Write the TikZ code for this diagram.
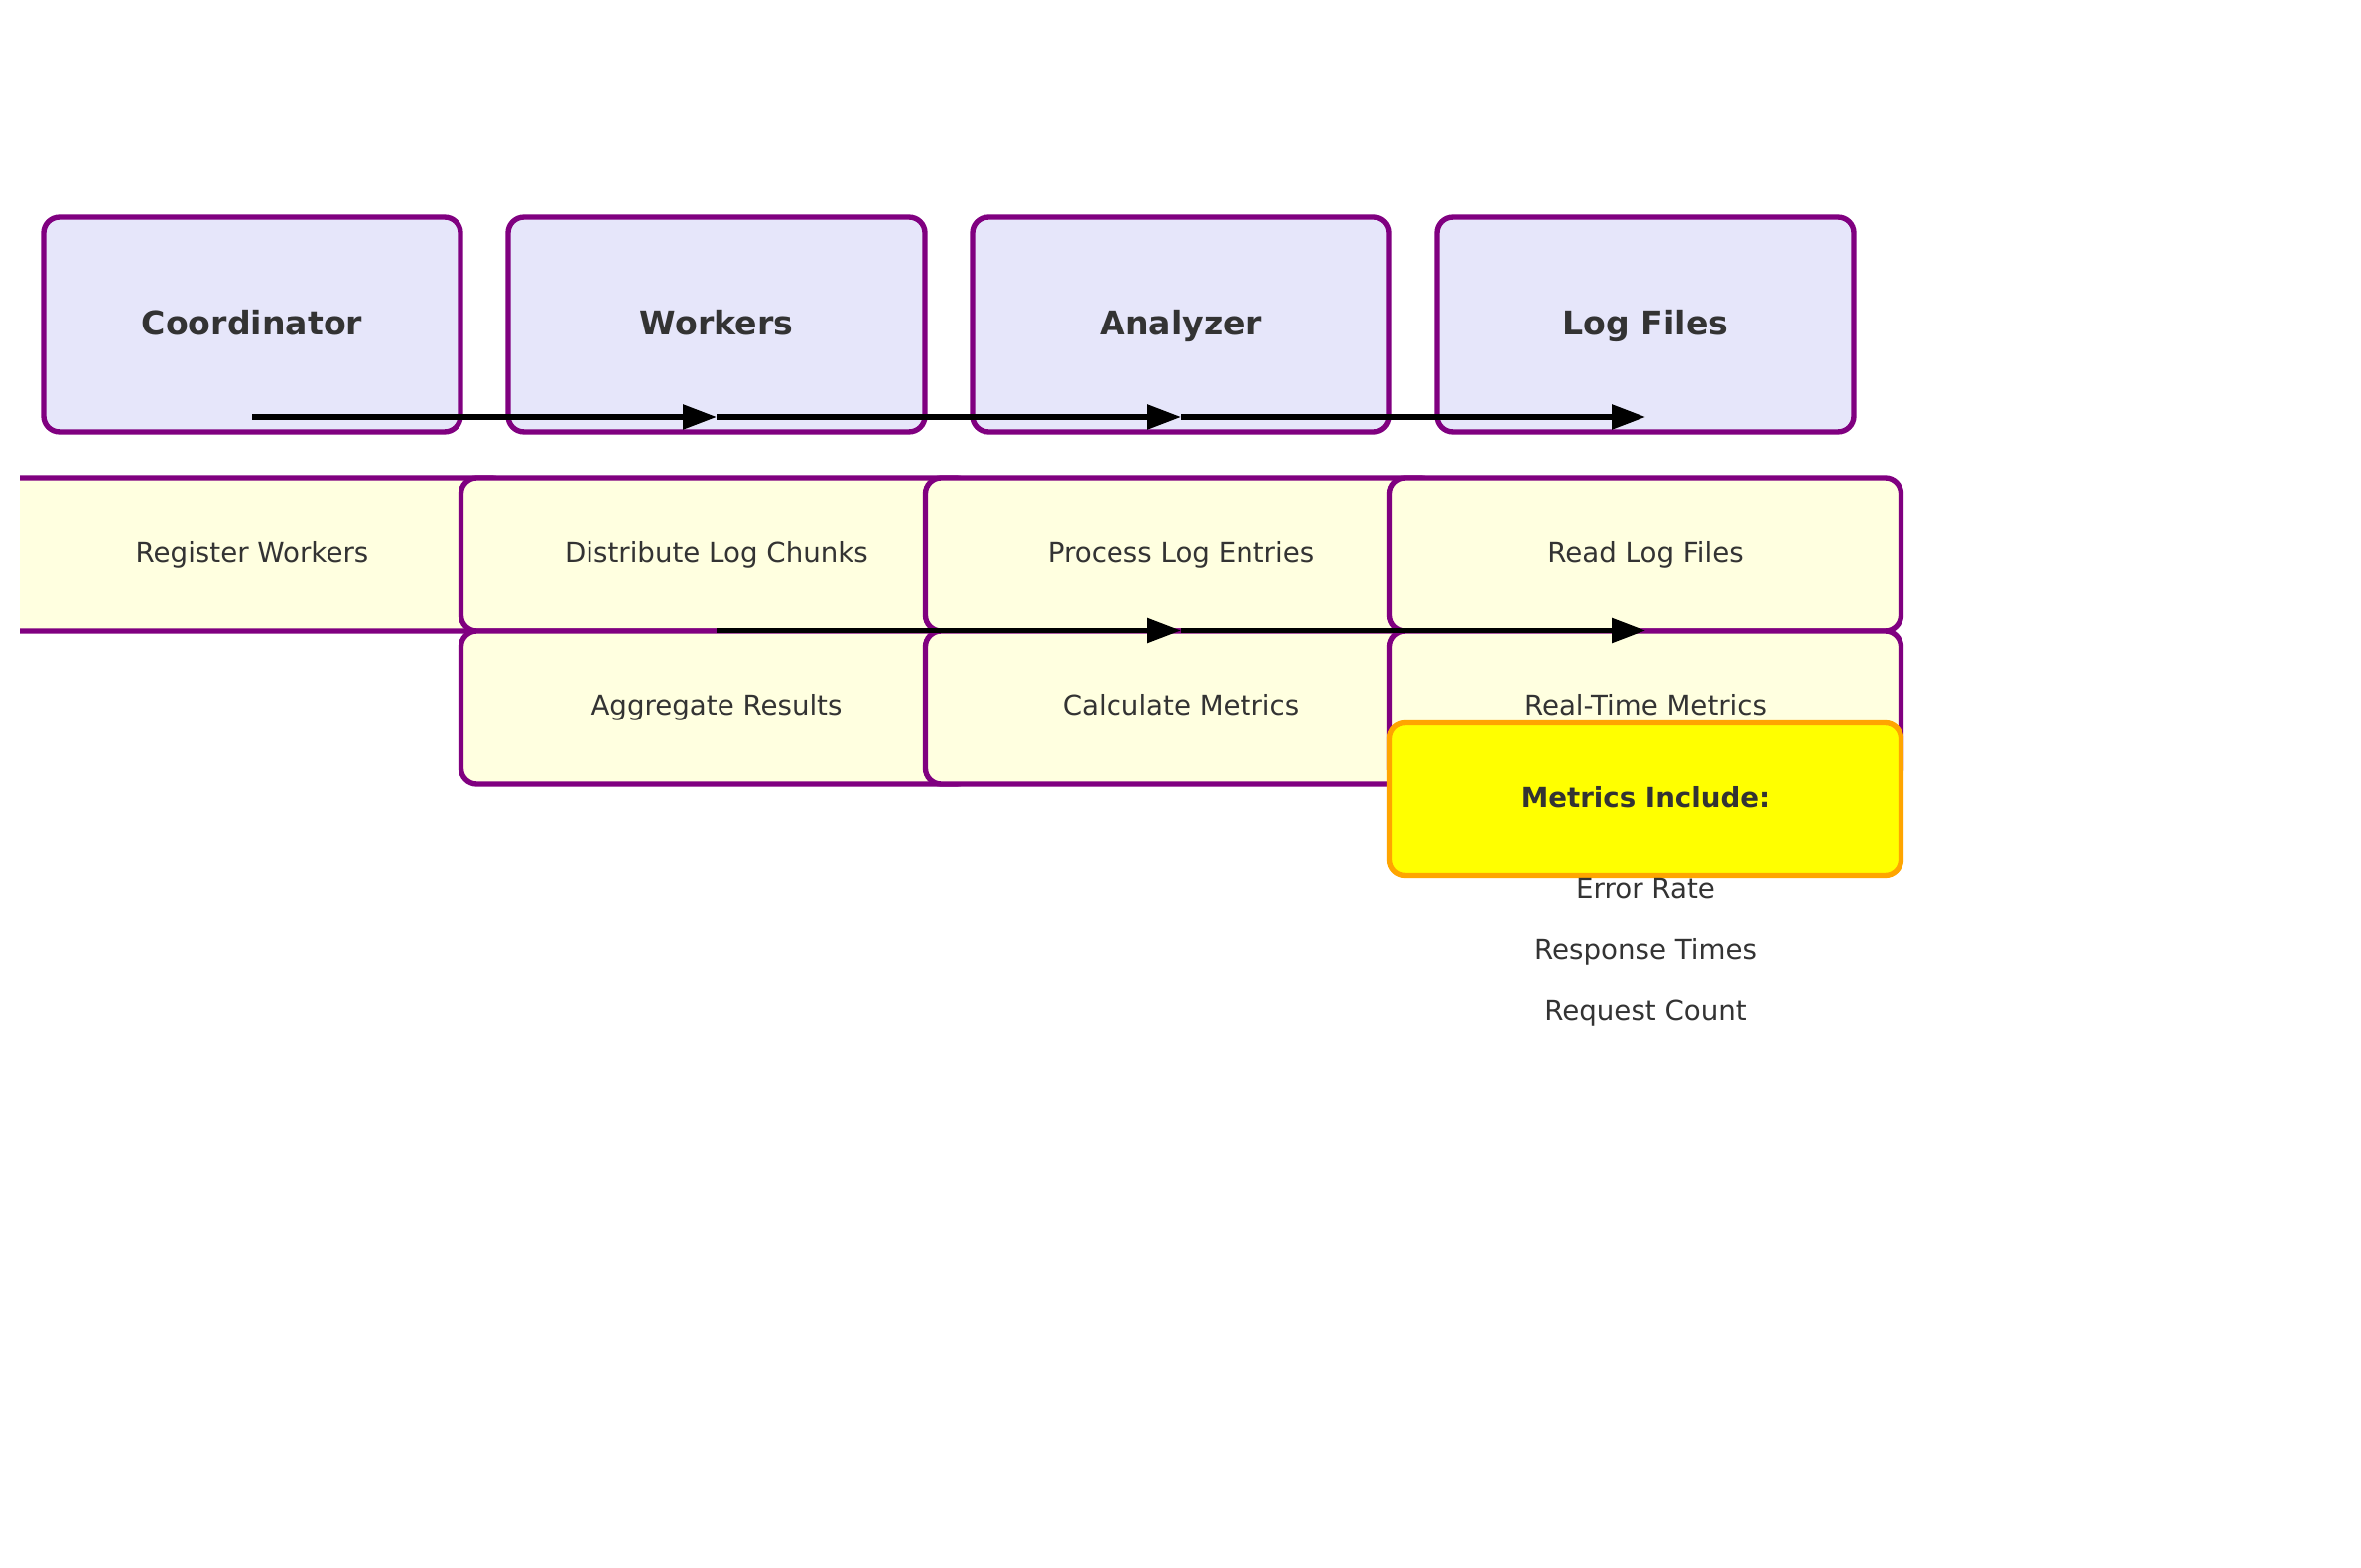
\documentclass[tikz,border=0pt]{standalone}
\usepackage{fontspec}
\setmainfont{DejaVu Sans}
\usetikzlibrary{arrows.meta}
\definecolor{lav}{HTML}{E6E6FA}
\definecolor{lyel}{HTML}{FFFFE0}
\definecolor{purp}{HTML}{800080}
\definecolor{orng}{HTML}{FFA500}
\definecolor{yel}{HTML}{FFFF00}
\definecolor{txt}{HTML}{333333}
\begin{document}
\begin{tikzpicture}[x=0.365pt,y=-0.365pt,
  topbox/.style={draw=purp, fill=lav, line width=1.95pt, rounded corners=5.8pt,
    minimum width=153.3pt, minimum height=78.8pt, inner sep=0pt, text=txt,
    font=\fontsize{12.1}{14}\selectfont\bfseries, text height=8.9pt, text depth=1pt},
  stepbox/.style={draw=purp, fill=lyel, line width=1.95pt, rounded corners=5.8pt,
    minimum width=188pt, minimum height=56.2pt, inner sep=0pt, text=txt,
    font=\fontsize{10.1}{12}\selectfont, text height=6.7pt, text depth=1pt},
  notebox/.style={stepbox, draw=orng, fill=yel, font=\fontsize{10.1}{12}\selectfont\bfseries},
  plain/.style={inner sep=0pt, text=txt, font=\fontsize{10.1}{12}\selectfont, text height=6.7pt, text depth=1pt},
  arr/.style={draw=black, line width=1.9pt, -{Triangle[length=12.4pt,width=8.8pt]}}
]
\useasboundingbox (0,0) rectangle (2379,1580);
\fill[white] (0,0) rectangle (2379,1580);

% top row
\node[topbox] (coord) at (254,327) {Coordinator};
\node[topbox] (work)  at (722,327) {Workers};
\node[topbox] (anal)  at (1190,327) {Analyzer};
\node[topbox] (logs)  at (1658,327) {Log Files};

% second row
\begin{scope}
  \clip (20,0) rectangle (2379,1580);
  \node[stepbox] (reg) at (254,559) {Register Workers};
\end{scope}
\node[stepbox] (dist) at (722,559) {Distribute Log Chunks};
\node[stepbox] (proc) at (1190,559) {Process Log Entries};
\node[stepbox] (read) at (1658,559) {Read Log Files};

% third row
\node[stepbox] (aggr) at (722,713) {Aggregate Results};
\node[stepbox] (calc) at (1190,713) {Calculate Metrics};
\node[stepbox] (rtm)  at (1658,713) {Real-Time Metrics};

% note
\node[notebox] (note) at (1658,805.5) {Metrics Include:};
\node[plain] (m1) at (1658,897.7) {Error Rate};
\node[plain] (m2) at (1658,958.6) {Response Times};
\node[plain] (m3) at (1658,1020.8) {Request Count};

% arrows
\coordinate (r1) at (0,420);
\coordinate (r2) at (0,635.5);
\draw[arr] (coord.center |- r1) -- (work.center |- r1);
\draw[arr] (work.center |- r1) -- (anal.center |- r1);
\draw[arr] (anal.center |- r1) -- (logs.center |- r1);
\draw[arr] (dist.center |- r2) -- (proc.center |- r2);
\draw[arr] (proc.center |- r2) -- (read.center |- r2);
\end{tikzpicture}
\end{document}
